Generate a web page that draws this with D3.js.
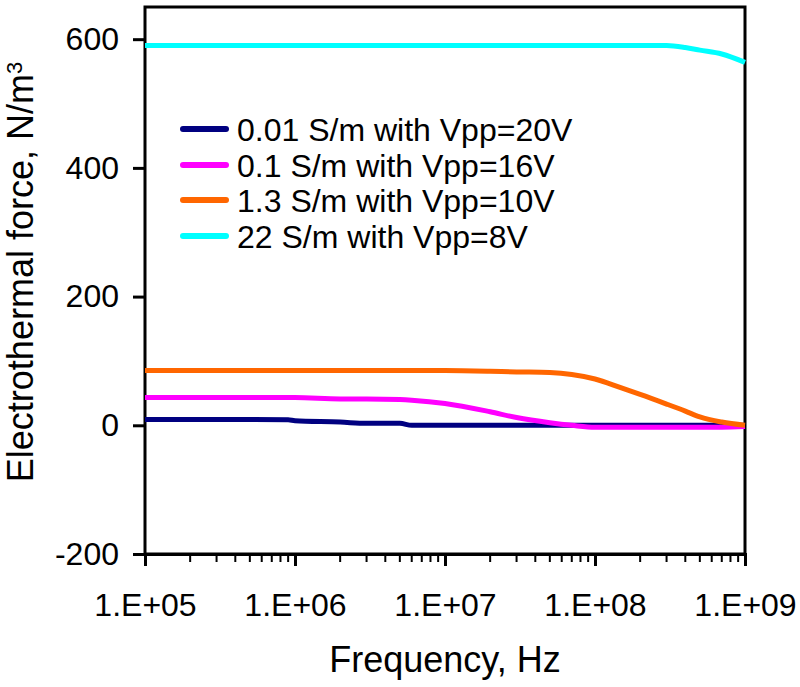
<!DOCTYPE html>
<html>
<head>
<meta charset="utf-8">
<script src="https://cdn.jsdelivr.net/npm/d3@7/dist/d3.min.js"></script>
<style>
  body { margin: 0; background: #fff; }
  text { font-family: "Liberation Sans", Arial, sans-serif; fill: #000; }
</style>
</head>
<body>
<svg id="chart" width="800" height="687"></svg>
<script>
const freqs = [1e5, 2e5, 5e5, 9e5, 1e6, 2e6, 3e6, 5e6, 6e6, 1e7, 2e7, 3e7, 5e7, 7e7, 1e8, 1.5e8, 2e8, 3e8, 4e8, 5e8, 7e8, 1e9];
const seriesNames = ["0.01 S/m with Vpp=20V", "0.1 S/m with Vpp=16V", "1.3 S/m with Vpp=10V", "22 S/m with Vpp=8V"];
const seriesColors = ["#000080", "#FF00FF", "#FF6600", "#00FFFF"];
const navyValues    = [9, 9, 9, 8.5, 7, 5, 3, 3, 0, 0, 0, 0, 0, 0, 0, 0, 0, 0, 0, 0, 0, 0];
const magentaValues = [43, 43, 43, 43, 43, 41, 41, 40, 39, 34, 21, 12, 4, 0, -3, -3, -3, -3, -3, -3, -3, -2];
const orangeValues  = [85, 85, 85, 85, 85, 85, 85, 85, 85, 85, 84, 83, 82, 79, 72, 58, 48, 33, 22, 13, 5, 0];
const cyanValues    = [590, 590, 590, 590, 590, 590, 590, 590, 590, 590, 590, 590, 590, 590, 590, 590, 590, 590, 587, 583, 577, 564];
const allValues = [navyValues, magentaValues, orangeValues, cyanValues];
const xTickValues = [1e5, 1e6, 1e7, 1e8, 1e9];
const xTickLabels = ["1.E+05", "1.E+06", "1.E+07", "1.E+08", "1.E+09"];
const yTickValues = [-200, 0, 200, 400, 600];

const svg = d3.select("#chart");
const mLeft = 145, mRight = 745, mTop = 7, mBottom = 554;

const x = d3.scaleLog().domain([1e5, 1e9]).range([mLeft, mRight]);
const y = d3.scaleLinear().domain([-200, 650]).range([mBottom, mTop]);

// minor ticks
const minor = [];
for (let e = 5; e < 9; e++) for (let m = 2; m <= 9; m++) minor.push(m * Math.pow(10, e));

// plot frame
svg.append("rect").attr("x", mLeft).attr("y", mTop).attr("width", mRight - mLeft).attr("height", mBottom - mTop)
  .attr("fill", "none").attr("stroke", "#000").attr("stroke-width", 3);

// x minor ticks
svg.append("g").selectAll("line").data(minor).join("line")
  .attr("x1", d => x(d)).attr("x2", d => x(d)).attr("y1", mBottom).attr("y2", mBottom + 8)
  .attr("stroke", "#000").attr("stroke-width", 2);

// x axis major
const xAxis = d3.axisBottom(x).tickValues(xTickValues).tickFormat((d, i) => xTickLabels[i]).tickSize(12).tickPadding(27);
const gx = svg.append("g").attr("transform", `translate(0,${mBottom})`).call(xAxis);
gx.select(".domain").attr("stroke-width", 3);
gx.selectAll(".tick line").attr("stroke-width", 3);
gx.selectAll(".tick text").attr("font-size", 32).attr("font-family", "Liberation Sans, Arial, sans-serif");

// y axis
const yAxis = d3.axisLeft(y).tickValues(yTickValues).tickFormat(d => String(d)).tickSize(12).tickPadding(14);
const gy = svg.append("g").attr("transform", `translate(${mLeft},0)`).call(yAxis);
gy.select(".domain").remove();
gy.selectAll(".tick line").attr("stroke-width", 3);
gy.selectAll(".tick text").attr("font-size", 32).attr("font-family", "Liberation Sans, Arial, sans-serif");

// lines
const line = d3.line().x(d => x(d[0])).y(d => y(d[1])).curve(d3.curveMonotoneX);
allValues.forEach((vals, i) => {
  const pts = freqs.map((f, j) => [f, vals[j]]);
  svg.append("path").datum(pts).attr("d", line)
    .attr("fill", "none").attr("stroke", seriesColors[i]).attr("stroke-width", 5);
});

// legend
const legendY = [129, 165, 200, 236];
seriesNames.forEach((name, i) => {
  svg.append("line").attr("x1", 183).attr("x2", 226).attr("y1", legendY[i]).attr("y2", legendY[i])
    .attr("stroke", seriesColors[i]).attr("stroke-width", 6).attr("stroke-linecap", "round");
  svg.append("text").attr("x", 237).attr("y", legendY[i]).attr("dy", "0.36em")
    .attr("font-size", 32).text(name);
});

// axis titles
svg.append("text").attr("x", (mLeft + mRight) / 2).attr("y", 672).attr("text-anchor", "middle")
  .attr("font-size", 36).text("Frequency, Hz");
const yt = svg.append("text").attr("transform", `translate(33,272) rotate(-90)`)
  .attr("text-anchor", "middle").attr("font-size", 36);
yt.append("tspan").text("Electrothermal force, N/m");
yt.append("tspan").attr("font-size", 22).attr("dy", "-0.5em").text("3");
</script>
</body>
</html>
